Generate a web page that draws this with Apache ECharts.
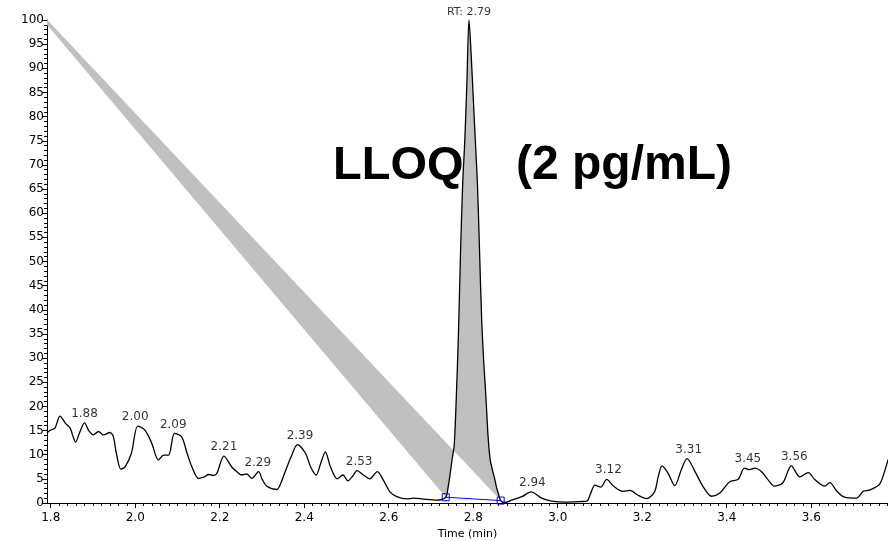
<!DOCTYPE html>
<html>
<head>
<meta charset="utf-8">
<script src="https://cdn.jsdelivr.net/npm/echarts@6/dist/echarts.min.js"></script>
<style>
html, body { margin: 0; padding: 0; background: #fff; }
#chart { width: 888px; height: 541px; }
</style>
</head>
<body>
<div id="chart"></div>
<script>
// chromatogram trace: time (min) / relative abundance (%)
var traceTimes = [
    1.791, 1.800, 1.810, 1.822, 1.835, 1.846, 1.852, 1.859, 1.868, 1.880,
    1.890, 1.901, 1.913, 1.925, 1.940, 1.948, 1.956, 1.966, 1.976, 1.991,
    2.006, 2.023, 2.039, 2.055, 2.067, 2.079, 2.093, 2.110, 2.122, 2.134,
    2.150, 2.164, 2.173, 2.185, 2.193, 2.210, 2.228, 2.240, 2.252, 2.264,
    2.276, 2.292, 2.300, 2.311, 2.335, 2.345, 2.355, 2.370, 2.384, 2.403,
    2.415, 2.428, 2.440, 2.450, 2.462, 2.478, 2.492, 2.503, 2.515, 2.525,
    2.540, 2.555, 2.573, 2.587, 2.603, 2.619, 2.643, 2.659, 2.682, 2.714,
    2.735, 2.740, 2.745, 2.750, 2.755, 2.760, 2.765, 2.770, 2.775, 2.780,
    2.785, 2.790, 2.795, 2.800, 2.805, 2.810, 2.815, 2.820, 2.825, 2.830,
    2.835, 2.840, 2.845, 2.850, 2.855, 2.860, 2.865, 2.875, 2.891, 2.915,
    2.937, 2.962, 2.986, 3.017, 3.053, 3.069, 3.078, 3.088, 3.102, 3.116,
    3.132, 3.155, 3.171, 3.190, 3.210, 3.229, 3.238, 3.247, 3.261, 3.277,
    3.293, 3.306, 3.325, 3.344, 3.364, 3.383, 3.407, 3.427, 3.442, 3.454,
    3.466, 3.482, 3.497, 3.513, 3.533, 3.553, 3.573, 3.593, 3.608, 3.632,
    3.644, 3.660, 3.679, 3.707, 3.723, 3.739, 3.762, 3.778, 3.782
];
var traceValues = [
    14.5, 15.1, 15.5, 18.0, 16.5, 15.5, 14.0, 12.6, 14.5, 16.6,
    15.0, 14.1, 14.8, 14.1, 14.6, 13.8, 10.0, 7.0, 7.5, 10.3,
    15.9, 15.1, 12.4, 8.9, 9.9, 9.9, 14.4, 13.7, 10.5, 7.5,
    5.1, 5.4, 5.9, 5.7, 6.1, 9.7, 7.5, 6.5, 5.8, 6.0,
    5.1, 6.5, 5.0, 3.5, 2.8, 4.2, 6.5, 9.8, 12.1, 10.3,
    7.5, 5.8, 8.5, 10.6, 7.5, 5.0, 5.8, 4.6, 5.6, 6.7,
    5.8, 5.0, 6.5, 4.8, 2.3, 1.3, 0.84, 1.0, 0.8, 0.6,
    1.2, 3.0, 5.8, 9.0, 12.0, 22, 35, 52, 66, 75,
    87, 100, 93, 84, 75, 66, 52, 38, 29, 22,
    14, 9, 7, 5.3, 3.3, 1.8, 0.5, 0.1, 0.6, 1.3,
    2.3, 1.0, 0.4, 0.2, 0.3, 0.4, 2.0, 3.7, 3.3, 4.9,
    3.5, 2.4, 2.6, 1.6, 0.9, 2.3, 5.5, 7.7, 6.2, 3.6,
    7.0, 9.2, 6.5, 3.4, 1.4, 2.0, 4.4, 4.9, 7.2, 6.9,
    7.2, 6.5, 4.9, 3.5, 4.2, 7.7, 5.4, 6.3, 4.9, 3.5,
    4.2, 2.5, 1.2, 1.0, 2.4, 2.7, 3.9, 7.8, 9.0
];

// labelled peaks
var peakLabelTimes = [1.88, 2.00, 2.09, 2.21, 2.29, 2.39, 2.53, 2.94, 3.12, 3.31, 3.45, 3.56];
var peakLabelValues = [16.6, 15.9, 14.4, 9.7, 6.5, 12.1, 6.7, 2.3, 4.9, 9.2, 7.2, 7.7];
var rtPeak = [2.79, 100];

// integration baseline (start / end of peak) and the stray fill anchor (off-plot, clipped)
var baselineTimes = [2.735, 2.865];
var baselineValues = [1.2, 0.5];
var fillAnchor = [1.695, 109];

var xTicks = [1.8, 2.0, 2.2, 2.4, 2.6, 2.8, 3.0, 3.2, 3.4, 3.6];
var X_MIN = 1.7912, X_MAX = 3.7817;

var FONT = 'DejaVu Sans';

var tracePairs = traceTimes.map(function (t, i) { return [t, traceValues[i]]; });
var peakPairs = tracePairs.filter(function (p) {
    return p[0] >= baselineTimes[0] && p[0] <= baselineTimes[1];
});
var fillPoly = [fillAnchor].concat(peakPairs);

var minorTicks = [];
for (var k = 0; k <= 100; k++) {
    var v = +(1.8 + k * 0.02).toFixed(2);
    if (v > X_MAX) break;
    if (k % 10 !== 0) minorTicks.push(v);
}

var myChart = echarts.init(document.getElementById('chart'));
var option = {
    backgroundColor: '#fff',
    animation: false,
    grid: { left: 47, right: 0, top: 20, bottom: 38, containLabel: false, outerBoundsMode: 'none' },
    xAxis: [{
        type: 'value',
        min: X_MIN,
        max: X_MAX,
        name: 'Time (min)',
        nameLocation: 'middle',
        nameGap: 24,
        nameTextStyle: { color: '#000', fontSize: 11, fontFamily: FONT },
        axisLine: { lineStyle: { color: '#000', width: 1 } },
        axisTick: { show: true, length: 5, lineStyle: { color: '#000' }, customValues: xTicks },
        axisLabel: {
            color: '#000', fontSize: 12, fontFamily: FONT, margin: 9,
            customValues: xTicks,
            formatter: function (v) { return v.toFixed(1); }
        },
        splitLine: { show: false }
    }, {
        type: 'value',
        min: X_MIN,
        max: X_MAX,
        position: 'bottom',
        axisLine: { show: false },
        axisTick: { show: true, length: 3, lineStyle: { color: '#000' }, customValues: minorTicks },
        axisLabel: { show: false },
        splitLine: { show: false }
    }],
    yAxis: {
        type: 'value',
        min: 0,
        max: 100,
        interval: 5,
        axisLine: { show: true, lineStyle: { color: '#000', width: 1 } },
        axisTick: { show: true, length: 5, lineStyle: { color: '#000' } },
        minorTick: { show: true, splitNumber: 5, length: 3, lineStyle: { color: '#000' } },
        axisLabel: { color: '#000', fontSize: 12, fontFamily: FONT, margin: 3 },
        splitLine: { show: false }
    },
    graphic: [{
        type: 'text',
        left: 333,
        top: 143,
        style: { text: 'LLOQ', fontSize: 47, fontWeight: 'bold', fontFamily: 'Liberation Sans', fill: '#000' }
    }, {
        type: 'text',
        left: 516,
        top: 142,
        style: { text: '(2 pg/mL)', fontSize: 48, fontWeight: 'bold', fontFamily: 'Liberation Sans', fill: '#000' }
    }],
    series: [{
        // grey peak fill (drawn the way the source software left it)
        type: 'custom',
        z: 1,
        silent: true,
        clip: true,
        data: [0],
        renderItem: function (params, api) {
            var pts = fillPoly.map(function (p) { return api.coord(p); });
            return {
                type: 'polygon',
                shape: { points: pts },
                style: { fill: '#c0c0c0', stroke: null }
            };
        }
    }, {
        type: 'line',
        z: 3,
        data: tracePairs,
        showSymbol: false,
        smooth: 0.3,
        lineStyle: { color: '#000', width: 1.3 }
    }, {
        type: 'line',
        z: 4,
        data: baselineTimes.map(function (t, i) { return [t, baselineValues[i]]; }),
        symbol: 'rect',
        symbolSize: 7,
        showSymbol: true,
        lineStyle: { color: '#0000ff', width: 1 },
        itemStyle: { color: 'rgba(255,255,255,0)', borderColor: '#0000ff', borderWidth: 1 }
    }, {
        type: 'scatter',
        z: 5,
        symbolSize: 0,
        data: peakLabelTimes.map(function (t, i) { return [t, peakLabelValues[i]]; }),
        label: {
            show: true,
            position: 'top',
            distance: 3,
            color: '#000',
            fontSize: 12,
            fontFamily: FONT,
            formatter: function (p) { return p.value[0].toFixed(2); }
        }
    }, {
        type: 'scatter',
        z: 5,
        symbolSize: 0,
        data: [rtPeak],
        label: {
            show: true,
            position: 'top',
            distance: 2,
            color: '#000',
            fontSize: 11,
            fontFamily: FONT,
            formatter: function (p) { return 'RT: ' + p.value[0].toFixed(2); }
        }
    }]
};
myChart.setOption(option);
</script>
</body>
</html>
